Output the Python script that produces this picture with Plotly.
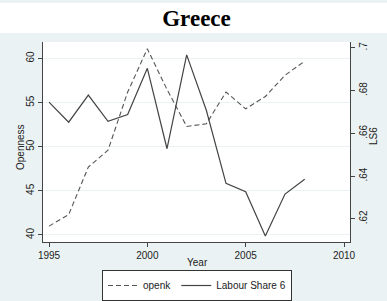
import plotly.graph_objects as go

years = list(range(1995, 2009))
openk = [41.0, 42.3, 47.7, 49.6, 56.2, 61.1, 56.5, 52.3, 52.6, 56.2, 54.3, 55.7, 58.1, 59.7]
ls6 = [0.6746, 0.6652, 0.6779, 0.6656, 0.6688, 0.6904, 0.6528, 0.6967, 0.6708, 0.6366, 0.6327, 0.612, 0.6316, 0.6385]

left_ticks = [40, 45, 50, 55, 60]
right_ticks = [0.62, 0.64, 0.66, 0.68, 0.70]
right_labels = [".62", ".64", ".66", ".68", ".7"]
x_ticks = [1995, 2000, 2005, 2010]

BG = "#eaf2f3"
AX = "#444444"
font = dict(family="Liberation Sans, Arial, sans-serif", size=10, color="#222")

fig = go.Figure()
fig.add_trace(go.Scatter(x=years, y=openk, name="openk", mode="lines",
                         line=dict(color="#555555", width=1.1, dash="5px,3px")))
fig.add_trace(go.Scatter(x=years, y=ls6, name="Labour Share 6", mode="lines", yaxis="y2",
                         line=dict(color="#444444", width=1.2)))

TOP, BOT, LEFT, RIGHT = 42, 242, 43, 350
H = float(BOT - TOP)
W = float(RIGHT - LEFT)
def py(pix):
    return (BOT - pix) / H
def px(pix):
    return (pix - LEFT) / W

fig.add_shape(type="rect", xref="paper", yref="paper", x0=-1, x1=2, y0=py(3), y1=py(33),
              fillcolor="white", line=dict(width=0), layer="below")

fig.add_annotation(text="Year", xref="paper", yref="paper", x=px(197), y=py(262),
                   showarrow=False, xanchor="center", yanchor="middle", font=dict(size=10))
fig.add_annotation(text="Openness", xref="paper", yref="paper", x=px(20), y=py(147),
                   showarrow=False, xanchor="center", yanchor="middle", textangle=-90,
                   font=dict(size=10))
fig.add_annotation(text="LS6", xref="paper", yref="paper", x=px(373), y=py(136),
                   showarrow=False, xanchor="center", yanchor="middle", textangle=-90,
                   font=dict(size=10))

fig.update_layout(
    width=387, height=301,
    margin=dict(l=LEFT, r=387 - RIGHT, t=TOP, b=301 - BOT, autoexpand=False),
    paper_bgcolor=BG, plot_bgcolor="white",
    font=font,
    title=dict(text="<b>Greece</b>", x=0.5, xref="paper", y=1 - 18/301, yanchor="middle",
               font=dict(family="Liberation Serif, Times New Roman, serif", size=23, color="black")),
    xaxis=dict(range=[1994.695, 2010.305], tickvals=x_ticks, ticks="outside", ticklen=4,
               tickcolor=AX, showline=True, linecolor=AX, linewidth=1, showgrid=False,
               zeroline=False, automargin=False),
    yaxis=dict(range=[39.2, 61.875], tickvals=left_ticks, ticks="outside", ticklen=4,
               tickcolor=AX, showline=True, linecolor=AX, linewidth=1, tickangle=-90,
               showgrid=True, gridcolor=BG, gridwidth=1, zeroline=False, automargin=False),
    yaxis2=dict(range=[0.6092, 0.7027], overlaying="y", side="right", tickvals=right_ticks,
                ticktext=right_labels, ticks="outside", ticklen=4, tickcolor=AX,
                showline=True, linecolor=AX, linewidth=1, tickangle=-90, showgrid=False,
                zeroline=False, automargin=False),
    legend=dict(orientation="h", x=px(197), xanchor="center", y=py(270), yanchor="top",
                bgcolor="white", bordercolor="#333", borderwidth=1,
                font=dict(size=10), tracegroupgap=0),
    showlegend=True,
)

fig.write_html("out.html", config={"displayModeBar": False},
               post_script="document.body.style.margin='0';document.body.style.overflow='hidden';")
